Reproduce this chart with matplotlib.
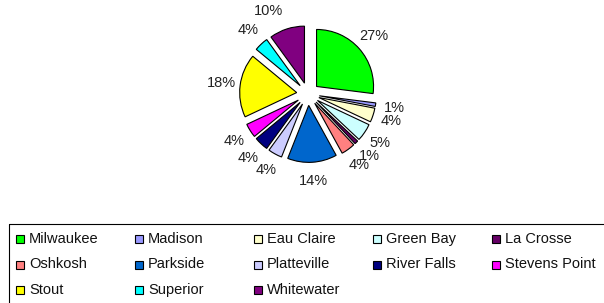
import matplotlib
matplotlib.use('Agg')
import matplotlib.pyplot as plt
from matplotlib.patches import Rectangle

plt.rcParams['font.family'] = ['Liberation Sans', 'DejaVu Sans']

# campus shares (percent), clockwise from 12 o'clock
schools = ['Milwaukee', 'Madison', 'Eau Claire', 'Green Bay', 'La Crosse',
           'Oshkosh', 'Parkside', 'Platteville', 'River Falls', 'Stevens Point',
           'Stout', 'Superior', 'Whitewater']
shares = [27, 1, 4, 5, 1, 4, 14, 4, 4, 4, 18, 4, 10]
colors = ['#00FF00', '#9999FF', '#FFFFCC', '#CCFFFF', '#660066',
          '#FF8080', '#0066CC', '#CCCCFF', '#000080', '#FF00FF',
          '#FFFF00', '#00FFFF', '#800080']

W, H = 604, 303
fig = plt.figure(figsize=(W / 100, H / 100), dpi=100)

# pie: centre and radius in pixels
cx, cy, r = 308, 94, 57
half = 100
ax = fig.add_axes([(cx - half) / W, 1 - (cy + half) / H, 2 * half / W, 2 * half / H])
wedges, texts, pcts = ax.pie(shares, colors=colors, startangle=90, counterclock=False,
                             explode=[0.2] * len(shares), radius=1,
                             autopct='%1.0f%%', pctdistance=1.33,
                             wedgeprops=dict(edgecolor='black', linewidth=0.8),
                             textprops=dict(fontsize=10.5, color='#222222'))
# Excel pushed the Whitewater label a little to the left
px, py = pcts[-1].get_position()
pcts[-1].set_position((px - 0.22, py))
ax.set_xlim(-half / r, half / r)
ax.set_ylim(-half / r, half / r)
ax.set_aspect('equal')
ax.axis('off')

# legend drawn by hand in pixel coordinates
lg = fig.add_axes([0, 0, 1, 1])
lg.set_xlim(0, W)
lg.set_ylim(H, 0)
lg.axis('off')
lg.add_patch(Rectangle((9, 224), 700, 200, fill=False, edgecolor='black', linewidth=0.8))
for i, (name, col) in enumerate(zip(schools, colors)):
    row, c = divmod(i, 5)
    x = 16 + 119 * c
    y = 239 + 25.5 * row
    lg.add_patch(Rectangle((x, y - 4), 8, 8, facecolor=col, edgecolor='black', linewidth=0.8))
    lg.text(x + 13, y, name, fontsize=10.5, va='center', ha='left', color='#111111')

fig.savefig('out.png', dpi=100)
